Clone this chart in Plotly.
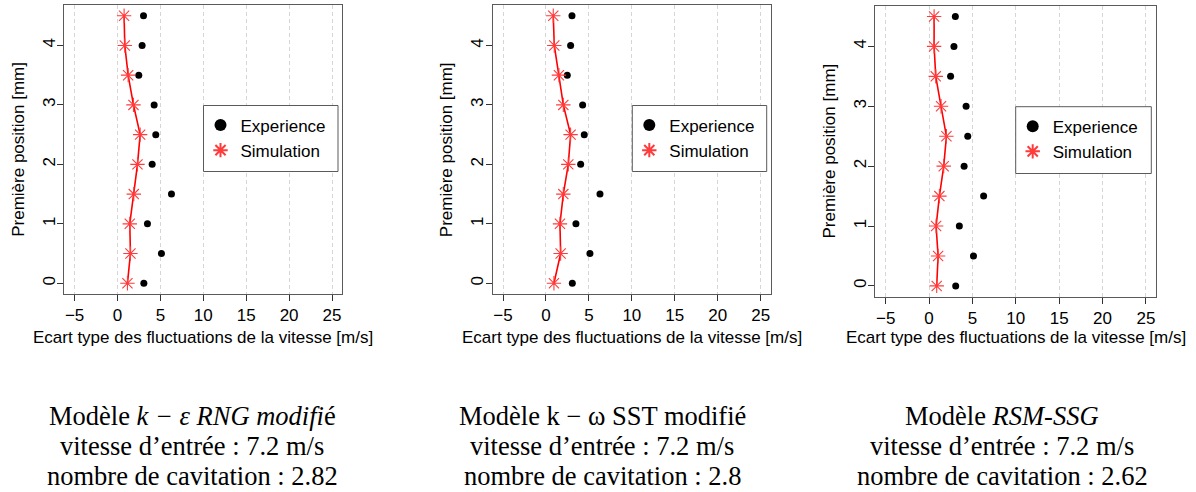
import plotly.graph_objects as go

W, H = 1196, 492

# Measured positions (mm) and velocity fluctuation standard deviation (m/s)
positions = [0, 0.5, 1, 1.5, 2, 2.5, 3, 3.5, 4, 4.5]
experience = [3.07, 5.12, 3.49, 6.29, 4.04, 4.46, 4.27, 2.48, 2.87, 3.03]
sim_rng = [1.16, 1.51, 1.43, 1.90, 2.33, 2.64, 1.86, 1.24, 0.85, 0.77]
sim_sst = [0.93, 1.71, 1.63, 2.02, 2.60, 2.87, 2.02, 1.51, 0.97, 0.85]
sim_rsm = [0.88, 1.04, 0.81, 1.19, 1.69, 2.00, 1.38, 0.77, 0.58, 0.58]

x_ticks = [-5, 0, 5, 10, 15, 20, 25]
y_ticks = [0, 1, 2, 3, 4]

captions = [
    ["Modèle <i>k − ε RNG modifi</i>é", "vitesse d’entrée : 7.2 m/s", "nombre de cavitation : 2.82"],
    ["Modèle k − ω SST modifié", "vitesse d’entrée : 7.2 m/s", "nombre de cavitation : 2.8"],
    ["Modèle <i>RSM-SSG</i>", "vitesse d’entrée : 7.2 m/s", "nombre de cavitation : 2.62"],
]
simulations = [sim_rng, sim_sst, sim_rsm]

# Plot boxes in pixels: left, right, top, bottom
boxes = [
    (64.3, 342.3, 5.0, 294.0),
    (492.7, 771.0, 5.0, 294.0),
    (875.3, 1156.3, 5.7, 296.7),
]
caption_x = [192, 602, 1002]
caption_y = [416, 446, 475.5]
legend_boxes = [
    (203.5, 338.0, 105.5, 171.5),
    (632.3, 766.7, 105.5, 171.5),
    (1015.7, 1151.3, 106.7, 173.5),
]


def px(x):
    return x / W


def py(y):
    return 1 - y / H


SANS = "Liberation Sans, Arial, sans-serif"
SERIF = "Liberation Serif, Times New Roman, serif"
FRAME = "#5a5a5a"

fig = go.Figure()
annotations = []
shapes = []

for i, (sim, box, cap, cx, lb) in enumerate(zip(simulations, boxes, captions, caption_x, legend_boxes)):
    n = i + 1
    xa = "x" if n == 1 else f"x{n}"
    ya = "y" if n == 1 else f"y{n}"
    leg = "legend" if n == 1 else f"legend{n}"

    fig.add_trace(go.Scatter(
        x=experience, y=positions, mode="markers", name="Experience",
        marker=dict(color="black", size=7, symbol="circle"),
        xaxis=xa, yaxis=ya, legend=leg,
    ))
    fig.add_trace(go.Scatter(
        x=sim, y=positions, mode="lines", showlegend=False,
        line=dict(color="#ff0000", width=1.6),
        xaxis=xa, yaxis=ya,
    ))
    fig.add_trace(go.Scatter(
        x=sim, y=positions, mode="markers", name="Simulation",
        marker=dict(symbol="asterisk-open", size=12, color="#ff3b3b",
                    line=dict(color="#ff3b3b", width=1.1)),
        xaxis=xa, yaxis=ya, legend=leg,
    ))

    left, right, top, bottom = box
    axis_common = dict(
        showline=True, mirror=True, linecolor=FRAME, linewidth=1,
        ticks="outside", ticklen=6, tickwidth=1, tickcolor="#333333",
        tickfont=dict(family=SANS, size=17, color="black"),
        zeroline=False,
    )
    fig.layout[f"xaxis{'' if n == 1 else n}"] = dict(
        domain=[px(left), px(right)], anchor=ya,
        range=[-6.2, 26.2], tickvals=x_ticks,
        showgrid=True, gridcolor="#d6d6d6", gridwidth=1, griddash="4px,3px",
        **axis_common,
    )
    fig.layout[f"yaxis{'' if n == 1 else n}"] = dict(
        domain=[py(bottom), py(top)], anchor=xa,
        range=[-0.18, 4.68], tickvals=y_ticks, tickangle=-90,
        ticklabelstandoff=-4,
        showgrid=False,
        **axis_common,
    )

    # Axis titles
    annotations.append(dict(
        x=px((left + right) / 2), y=py(337), xref="paper", yref="paper",
        text="Ecart type des fluctuations de la vitesse [m/s]", showarrow=False,
        font=dict(family=SANS, size=17, color="black"),
        xanchor="center", yanchor="middle",
    ))
    annotations.append(dict(
        x=px(left - 46), y=py((top + bottom) / 2), xref="paper", yref="paper",
        text="Première position [mm]", showarrow=False, textangle=-90,
        font=dict(family=SANS, size=17, color="black"),
        xanchor="center", yanchor="middle",
    ))

    # Caption under each panel
    for line, yy in zip(cap, caption_y):
        annotations.append(dict(
            x=px(cx), y=py(yy), xref="paper", yref="paper",
            text=line, showarrow=False,
            font=dict(family=SERIF, size=26.5, color="black"),
            xanchor="center", yanchor="middle",
        ))

    # Legend frame
    l0, l1, t0, b0 = lb
    shapes.append(dict(
        type="rect", xref="paper", yref="paper",
        x0=px(l0), x1=px(l1), y0=py(b0), y1=py(t0),
        line=dict(color=FRAME, width=1), fillcolor="white", layer="above",
    ))
    fig.layout[leg] = dict(
        x=px(l0 - 3), y=py(t0 + 2), xanchor="left", yanchor="top",
        bgcolor="rgba(0,0,0,0)", borderwidth=0,
        font=dict(family=SANS, size=17, color="black"),
        itemsizing="constant",
    )

fig.update_layout(
    width=W, height=H,
    margin=dict(l=0, r=0, t=0, b=0),
    paper_bgcolor="white", plot_bgcolor="white",
    annotations=annotations, shapes=shapes,
    showlegend=True,
)

fig.write_html("out.html")
